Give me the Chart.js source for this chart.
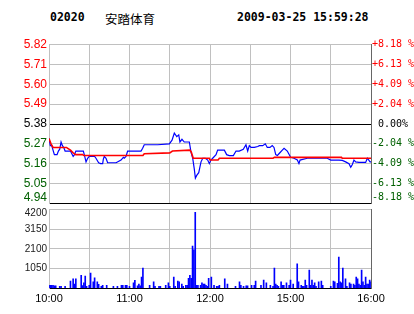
<!DOCTYPE html>
<html>
<head>
<meta charset="utf-8">
<script src="https://cdn.jsdelivr.net/npm/chart.js@4"></script>
<style>
  body { margin: 0; background: #fff; }
  #wrap { position: relative; width: 414px; height: 314px; overflow: hidden; }
  canvas { position: absolute; left: 0; top: 0; }
  .head { position: absolute; top: 10px; line-height: 12px; white-space: nowrap; color: #000; }
  .mono { font: bold 11.5px "DejaVu Sans Mono", monospace; }
  .cjk { font: 12.5px "Noto Sans CJK SC", sans-serif; }
</style>
</head>
<body>
<div id="wrap">
  <div class="head mono" style="left:50px">02020</div>
  <div class="head cjk" style="left:105px;top:9px">安踏体育</div>
  <div class="head mono" style="left:237px">2009-03-25 15:59:28</div>
  <canvas id="price-chart" width="414" height="314"></canvas>
  <canvas id="volume-chart" width="414" height="314"></canvas>
</div>
<script>
'use strict'

// **** DATA ****
// minutes since 10:00, trading time only (12:30 joins 14:30)
let priceTimes = [0, 1, 2, 4, 6, 7, 8, 9, 10, 11, 12, 16, 18, 19, 20, 25.6, 26.3, 27.6, 28.8, 30,
  34, 35, 37, 38.5, 40, 40.5, 41.2, 42.5, 43.7, 50, 53.7, 55.4, 56.1, 57.4, 58.6, 68.6, 69.8, 71, 81, 89.7,
  91.7, 93.4, 95.2, 96.7, 97.6, 99.1, 100.8, 104.6, 105.8, 107.1, 108.3, 109.1, 110.1, 111.6, 113.3, 114.6, 116.5, 118.3, 119.5, 120.7,
  122, 124.5, 125.7, 130.7, 132.4, 134.4, 137.4, 139.4, 141.8, 144.8, 146.8, 148.1, 149.3, 150.6, 153, 155.6, 156.8, 159.3, 161.2, 162.7,
  164.7, 166.4, 167.7, 169, 170.2, 171.4, 173.9, 175.2, 177.6, 180.1, 182.6, 185.1, 186.3, 187.1, 192.5, 207.4, 210, 216.1, 218.6, 221.1,
  223.6, 224.9, 226.1, 227.3, 228.6, 231, 236, 237.3, 239.3, 240];
let priceValues = [5.30, 5.26, 5.26, 5.21, 5.21, 5.23, 5.24, 5.28, 5.26, 5.25, 5.23, 5.23, 5.20, 5.21, 5.23, 5.23, 5.21, 5.17, 5.19, 5.20,
  5.20, 5.19, 5.165, 5.16, 5.16, 5.185, 5.20, 5.19, 5.165, 5.165, 5.18, 5.195, 5.19, 5.20, 5.23, 5.23, 5.245, 5.265, 5.265, 5.27,
  5.29, 5.33, 5.31, 5.32, 5.28, 5.295, 5.28, 5.28, 5.225, 5.19, 5.13, 5.08, 5.095, 5.11, 5.17, 5.19, 5.19, 5.18, 5.16, 5.18,
  5.19, 5.21, 5.235, 5.235, 5.21, 5.205, 5.205, 5.23, 5.23, 5.24, 5.265, 5.23, 5.26, 5.25, 5.25, 5.255, 5.26, 5.26, 5.27, 5.25,
  5.25, 5.26, 5.25, 5.21, 5.205, 5.215, 5.235, 5.245, 5.23, 5.195, 5.19, 5.18, 5.16, 5.18, 5.19, 5.19, 5.18, 5.18, 5.178, 5.17,
  5.16, 5.14, 5.155, 5.18, 5.17, 5.167, 5.167, 5.19, 5.17, 5.17];

let avgTimes = [0, 1.5, 3, 13, 14, 16, 18, 20, 25, 26, 70, 71, 90, 92, 105, 106, 107.5, 119.5, 120, 126, 127, 167, 168, 218, 218.5, 240];
let avgValues = [5.30, 5.27, 5.25, 5.25, 5.245, 5.235, 5.22, 5.21, 5.21, 5.205, 5.205, 5.215, 5.22, 5.23, 5.235, 5.225, 5.19, 5.19, 5.18, 5.18, 5.19, 5.19, 5.195, 5.195, 5.19, 5.19];

let volTimes = [0, 1, 2, 3, 4, 5, 8, 9, 12, 16, 18, 19, 20, 24, 25, 26, 27, 28, 30, 31,
  33, 34, 36, 37, 39, 40, 43, 48, 51, 54, 55, 57, 58, 60, 63, 64, 66, 67, 68, 69,
  70, 75, 78, 79, 82, 83, 87, 89, 90, 93, 94, 96, 97, 99, 100, 102, 103, 104, 105, 106,
  107, 108, 109, 110, 111, 113, 114, 115, 116, 117, 118, 119, 121, 123, 125, 126, 127, 131, 133, 139,
  142, 143, 145, 147, 148, 151, 153, 154, 158, 160, 162, 165, 167, 168, 169, 170, 171, 173, 174, 175,
  177, 179, 180, 182, 185, 186, 188, 189, 190, 191, 192, 194, 195, 196, 197, 198, 199, 201, 203, 204,
  210, 212, 213, 215, 216, 217, 218, 219, 221, 222, 224, 225, 227, 228, 229, 230, 231, 232, 233, 234,
  235, 236, 237, 238, 239, 240];
let volValues = [160, 160, 160, 160, 125, 125, 105, 105, 105, 390, 500, 230, 500, 690, 140, 285, 655, 105, 160, 815,
  340, 550, 340, 215, 105, 160, 160, 105, 105, 160, 160, 160, 160, 105, 285, 425, 125, 230, 125, 600,
  1080, 160, 340, 105, 105, 105, 160, 285, 105, 600, 105, 390, 340, 230, 105, 160, 160, 530, 690, 530,
  2250, 2040, 4040, 160, 160, 160, 285, 230, 230, 160, 105, 530, 600, 160, 105, 105, 160, 500, 230, 105,
  340, 160, 105, 125, 125, 160, 160, 390, 160, 440, 285, 160, 105, 1080, 230, 160, 105, 340, 160, 160,
  285, 160, 440, 230, 1295, 340, 160, 105, 105, 440, 160, 975, 160, 440, 160, 285, 105, 340, 390, 160,
  105, 390, 340, 265, 1665, 340, 285, 1080, 500, 105, 285, 230, 230, 160, 600, 500, 230, 160, 975, 340,
  160, 600, 230, 230, 440, 340];

let priceTicks = [4.94, 5.05, 5.16, 5.27, 5.38, 5.49, 5.60, 5.71, 5.82];
let pctLabels = ['-8.18 %', '-6.13 %', '-4.09 %', '-2.04 %', '0.00%', '+2.04 %', '+4.09 %', '+6.13 %', '+8.18 %'];
let prevClose = 5.38;
let volTicks = [0, 1050, 2100, 3150, 4200];
let gridTimes = [0, 30, 60, 90, 120, 150, 180, 210, 240];
let timeLabels = {0: '10:00', 60: '11:00', 120: '12:00', 180: '15:00', 240: '16:00'};

// **** HELPERS ****
const GRID = '#c0c0c0';
const EDGE = '#666666';
const UP = '#ff0000';
const DOWN = '#006000';

function toPoints(xs, ys) {
  let pts = [];
  for (let i = 0; i < xs.length; i++) {
    pts.push({x: xs[i], y: ys[i]});
  }
  return pts;
}

function setTicks(values) {
  return function(scale) {
    scale.ticks = values.map(v => ({value: v}));
  };
}

function fixWidth(w) {
  return function(scale) { scale.width = w; };
}

function tickColor(ctx) {
  let v = ctx.tick.value;
  if (v > prevClose) return UP;
  if (v < prevClose) return DOWN;
  return '#000';
}

// the lowest label sits above its line, like the original
function liftFirst(text, i) {
  return i === 0 ? [text, ''] : text;
}

// **** PRICE CHART ****
function renderPrice() {
  const ctx = document.getElementById('price-chart');
  new Chart(ctx, {
    type: 'line',
    data: {
      datasets: [{
        data: toPoints(avgTimes, avgValues),
        borderColor: UP,
        borderWidth: 1.6,
        pointRadius: 0,
        tension: 0
      }, {
        data: toPoints(priceTimes, priceValues),
        borderColor: '#0000ff',
        borderWidth: 1.2,
        pointRadius: 0,
        tension: 0
      }]
    },
    options: {
      responsive: false,
      animation: false,
      events: [],
      layout: {padding: {top: 44.7, bottom: 110.7, left: 0, right: 0}},
      plugins: {legend: {display: false}, tooltip: {enabled: false}},
      scales: {
        x: {
          type: 'linear',
          min: 0,
          max: 240,
          afterBuildTicks: setTicks(gridTimes),
          afterFit: s => { s.height = 0; },
          ticks: {display: false},
          grid: {color: c => c.tick.value === 240 ? EDGE : GRID, drawTicks: false},
          border: {display: false}
        },
        y: {
          position: 'left',
          min: 4.94,
          max: 5.82,
          afterBuildTicks: setTicks(priceTicks),
          afterFit: fixWidth(49),
          ticks: {
            autoSkip: false,
            color: tickColor,
            padding: 2,
            font: {family: '"Liberation Sans", Arial, sans-serif', size: 12, lineHeight: 1},
            callback: (v, i) => liftFirst(v.toFixed(2), i)
          },
          grid: {
            color: c => (c.tick.value === prevClose || c.tick.value === 4.94) ? '#000' : GRID,
            drawTicks: false
          },
          border: {color: GRID}
        },
        y2: {
          position: 'right',
          min: 4.94,
          max: 5.82,
          afterBuildTicks: setTicks(priceTicks),
          afterFit: fixWidth(43),
          ticks: {
            autoSkip: false,
            color: tickColor,
            padding: 1,
            crossAlign: 'center',
            font: {family: '"DejaVu Sans Mono", monospace', size: 10, lineHeight: 1.2},
            callback: (v, i) => liftFirst(pctLabels[i], i)
          },
          grid: {drawOnChartArea: false, drawTicks: false},
          border: {color: EDGE}
        }
      }
    }
  });
}

// **** VOLUME CHART ****
function renderVolume() {
  const ctx = document.getElementById('volume-chart');
  new Chart(ctx, {
    type: 'bar',
    data: {
      datasets: [{
        data: toPoints(volTimes, volValues),
        backgroundColor: '#0000ff',
        barThickness: 1
      }]
    },
    options: {
      responsive: false,
      animation: false,
      events: [],
      layout: {padding: {top: 209.3, bottom: 0, left: 0, right: 0}},
      plugins: {legend: {display: false}, tooltip: {enabled: false}},
      scales: {
        x: {
          type: 'linear',
          min: 0,
          max: 240,
          offset: false,
          afterBuildTicks: setTicks(gridTimes),
          afterFit: s => { s.height = 25.7; },
          ticks: {
            autoSkip: false,
            maxRotation: 0,
            padding: 4,
            color: '#000',
            font: {family: '"Liberation Sans", Arial, sans-serif', size: 11},
            callback: v => timeLabels[v] || ''
          },
          grid: {color: c => c.tick.value === 240 ? EDGE : GRID, drawTicks: false, offset: false},
          border: {display: false}
        },
        y: {
          position: 'left',
          min: 0,
          max: 4200,
          afterBuildTicks: setTicks(volTicks),
          afterFit: fixWidth(49),
          ticks: {
            autoSkip: false,
            color: '#202020',
            padding: 2,
            font: {family: '"Liberation Sans", Arial, sans-serif', size: 10, lineHeight: 0.8},
            // top label drops below the border line
            callback: v => v === 0 ? '' : (v === 4200 ? ['', String(v)] : String(v))
          },
          grid: {color: c => c.tick.value === 0 ? '#000' : GRID, drawTicks: false},
          border: {color: GRID}
        },
        y2: {
          position: 'right',
          min: 0,
          max: 4200,
          afterFit: fixWidth(43),
          ticks: {display: false},
          grid: {drawOnChartArea: false, drawTicks: false},
          border: {color: EDGE}
        }
      }
    }
  });
}

// **** EXECUTABLE CODE ****
renderPrice();
renderVolume();
</script>
</body>
</html>
